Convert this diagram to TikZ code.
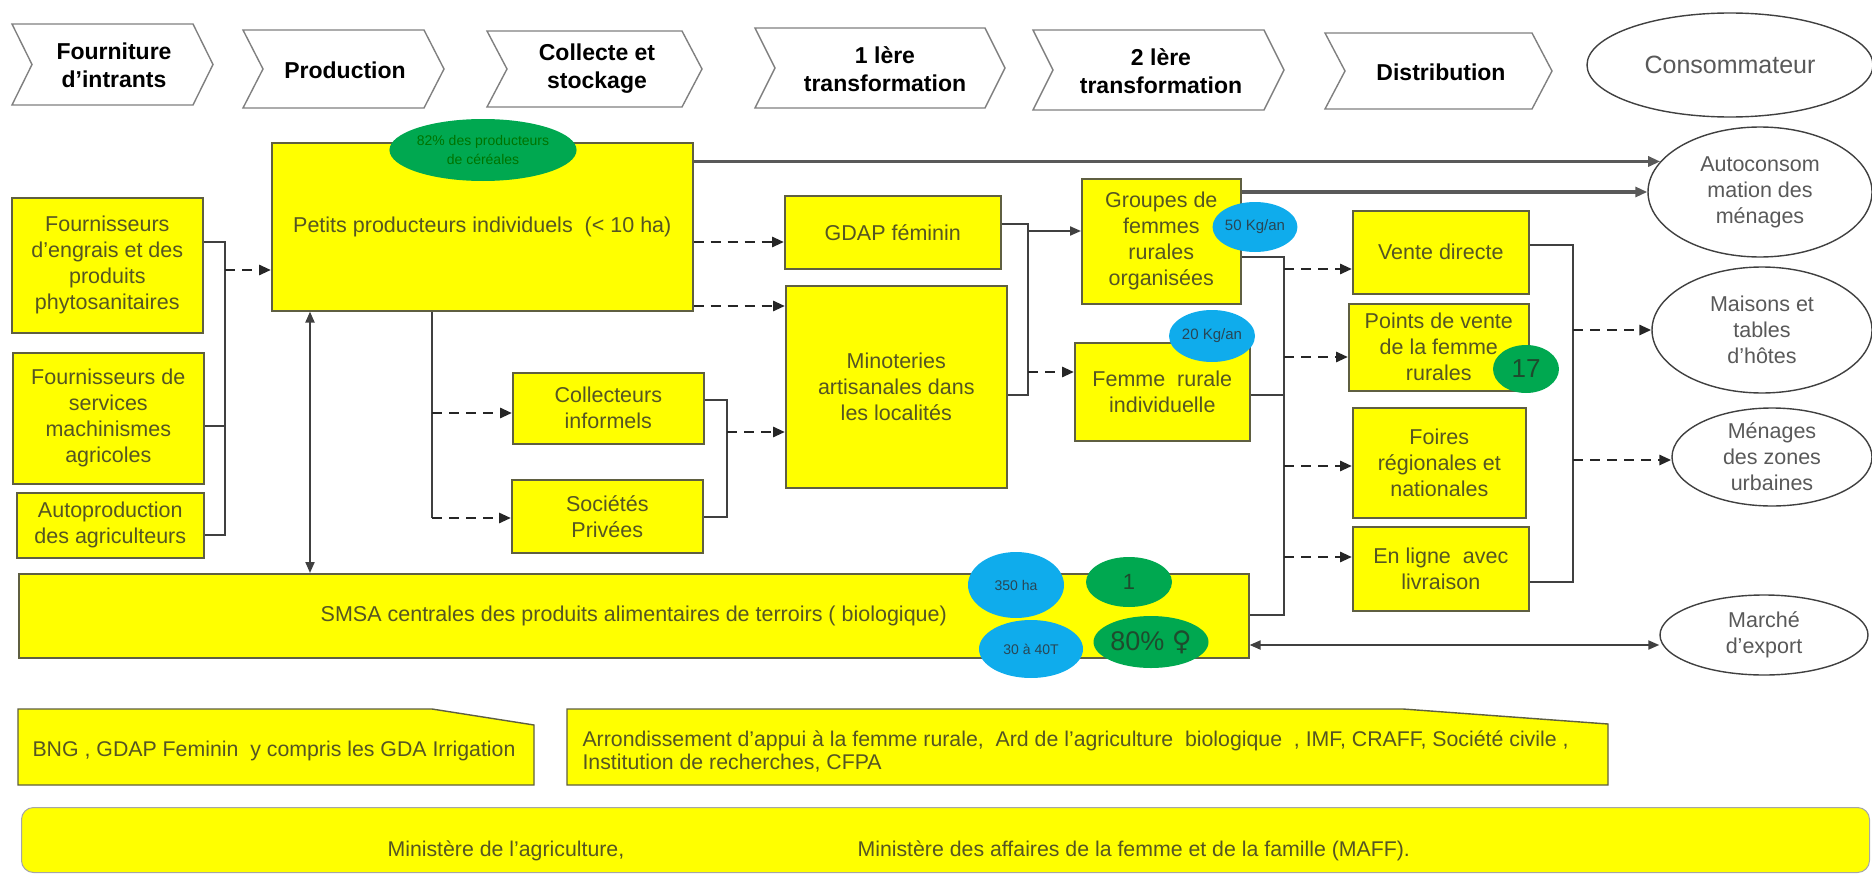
\documentclass[tikz,border=0pt]{standalone}
\usepackage{fontspec}
\setmainfont{Liberation Sans}
\newfontfamily\symfont{DejaVu Sans}
\usetikzlibrary{shapes.geometric,arrows.meta,calc}

\definecolor{boxyellow}{RGB}{255,255,0}
\definecolor{boxedge}{RGB}{95,95,65}
\definecolor{boxtext}{RGB}{85,85,35}
\definecolor{linegray}{RGB}{64,64,64}
\definecolor{badgegreen}{RGB}{0,168,80}
\definecolor{badgeblue}{RGB}{15,172,236}
\definecolor{greentext}{RGB}{30,75,45}
\definecolor{bluetext}{RGB}{40,70,85}
\definecolor{ovaltext}{RGB}{89,89,89}
\definecolor{chevedge}{RGB}{128,128,128}

\tikzset{
  ybox/.style={draw=boxedge, line width=1.6pt, fill=boxyellow, text=boxtext,
    align=center, inner sep=0pt, anchor=north west,
    font=\fontsize{21.5}{26}\selectfont},
  oval/.style={ellipse, draw=linegray, line width=1.4pt, fill=white,
    text=ovaltext, align=center, inner sep=0pt,
    font=\fontsize{21.5}{26}\selectfont},
  gbadge/.style={ellipse, fill=badgegreen, text=greentext, inner sep=0pt, align=center},
  bbadge/.style={ellipse, fill=badgeblue, text=bluetext, inner sep=0pt, align=center},
  hdr/.style={font=\bfseries\fontsize{23}{28}\selectfont, align=center, text=black},
  plain/.style={text=boxtext, font=\fontsize{21.3}{23}\selectfont},
  boxpoly/.style={draw=boxedge, line width=1.4pt, fill=boxyellow},
  conn/.style={draw=linegray, line width=2pt},
  dasharrow/.style={draw=black!85, line width=2.8pt, dash pattern=on 10pt off 7pt,
    -{Triangle[length=12pt,width=10pt]}},
  solidarrow/.style={conn, -{Triangle[length=11pt,width=9pt]}},
  bothtips/.style={conn, {Triangle[length=11pt,width=9pt]}-{Triangle[length=11pt,width=9pt]}},
  longarrow/.style={draw=gray!70!black, line width=3.2pt,
    -{Triangle[length=12pt,width=10pt]}},
}

% value-chain stage header: left x, top y, right x, bottom y
\newcommand\hdrchev[4]{%
  \draw[draw=chevedge, line width=1.4pt, fill=white]
    (#1,#2) -- (#3-20,#2) -- (#3,{(#2+#4)/2}) -- (#3-20,#4) -- (#1,#4)
    -- (#1+20,{(#2+#4)/2}) -- cycle;}

\begin{document}
\begin{tikzpicture}[x=1pt,y=-1pt]
\useasboundingbox (0,0) rectangle (1872,875);

% ---- stage headers ----
\hdrchev{12}{24}{213}{105}
\hdrchev{243}{30}{444}{108}
\hdrchev{487}{31}{702}{107}
\hdrchev{755}{28}{1005}{108}
\hdrchev{1033}{30}{1284}{110}
\hdrchev{1325}{33}{1552}{109}
\node[hdr] (h1) at (114,65) {Fourniture\\d’intrants};
\node[hdr] (h2) at (345,70) {Production};
\node[hdr] (h3) at (597,69) {Collecte et\\stockage};
\node[hdr] (h4) at (885,69) {1 lère\\transformation};
\node[hdr] (h5) at (1161,71) {2 lère\\transformation};
\node[hdr] (h6) at (1441,72) {Distribution};
\node[oval, minimum width=286pt, minimum height=104pt,
  font=\fontsize{25}{30}\selectfont] (conso) at (1730,65) {Consommateur};

% ---- inputs ----
\node[ybox, minimum width=191pt, minimum height=135pt] (engrais) at (11,197)
  {Fournisseurs\\d’engrais et des\\produits\\phytosanitaires};
\node[ybox, minimum width=191pt, minimum height=131pt] (services) at (12,352)
  {Fournisseurs de\\services\\machinismes\\agricoles};
\node[ybox, minimum width=187pt, minimum height=65pt] (auto) at (16,492)
  {Autoproduction\\des agriculteurs};

% ---- production, collection ----
\node[ybox, minimum width=421pt, minimum height=168pt] (petits) at (271,142)
  {Petits producteurs individuels~ (< 10 ha)};
\node[ybox, minimum width=191pt, minimum height=71pt] (collect) at (512,372)
  {Collecteurs\\informels};
\node[ybox, minimum width=191pt, minimum height=73pt] (societes) at (511,479)
  {Sociétés\\Privées};

% ---- first and second transformation ----
\node[ybox, minimum width=216pt, minimum height=73pt] (gdap) at (784,195)
  {GDAP féminin};
\node[ybox, minimum width=221pt, minimum height=202pt] (minot) at (785,285)
  {Minoteries\\artisanales dans\\les localités};
\node[ybox, minimum width=159pt, minimum height=125pt] (groupes) at (1081,178)
  {Groupes de\\femmes\\rurales\\organisées};
\node[ybox, minimum width=175pt, minimum height=98pt] (femme) at (1074,342)
  {Femme~ rurale\\individuelle};

% ---- distribution ----
\node[ybox, minimum width=176pt, minimum height=83pt] (vente) at (1352,210)
  {Vente directe};
\node[ybox, minimum width=180pt, minimum height=87pt] (points) at (1348,303)
  {Points de vente\\de la femme\\rurales};
\node[ybox, minimum width=173pt, minimum height=110pt] (foires) at (1352,407)
  {Foires\\régionales et\\nationales};
\node[ybox, minimum width=176pt, minimum height=84pt] (enligne) at (1352,526)
  {En ligne~ avec\\livraison};

% ---- organic SMSA ----
\node[ybox, minimum width=1230pt, minimum height=84pt] (smsa) at (18,573)
  {SMSA centrales des produits alimentaires de terroirs ( biologique)};

% ---- consumers ----
\node[oval, minimum width=224pt, minimum height=130pt] (autoc) at (1760,192)
  {Autoconsom\\mation des\\ménages};
\node[oval, minimum width=220pt, minimum height=126pt] (maisons) at (1762,330)
  {Maisons et\\tables\\d’hôtes};
\node[oval, minimum width=200pt, minimum height=98pt] (menages) at (1772,457)
  {Ménages\\des zones\\urbaines};
\node[oval, minimum width=208pt, minimum height=80pt] (marche) at (1764,635)
  {Marché\\d’export};

% ---- connectors ----
\draw[conn] (engrais.east |- 0,242) -| (225,535) -- (auto.east |- 0,535);
\draw[conn] (services.east |- 0,426) -- (225,426);
\draw[dasharrow] (225,270) -- (petits.west |- 0,270);

\draw[bothtips] (petits.south -| 310,0) -- (smsa.north -| 310,0);

\draw[dasharrow] (petits.east |- 0,242) -- (gdap.west |- 0,242);
\draw[dasharrow] (petits.east |- 0,306) -- (minot.west |- 0,306);

\draw[conn] (petits.south -| 432,0) -- (432,518);
\draw[dasharrow] (432,413) -- (collect.west |- 0,413);
\draw[dasharrow] (432,518) -- (societes.west |- 0,518);

\draw[conn] (collect.east |- 0,400) -| (727,517) -- (societes.east |- 0,517);
\draw[dasharrow] (727,432) -- (minot.west |- 0,432);

\draw[conn] (gdap.east |- 0,224) -| (1028,395) -- (minot.east |- 0,395);
\draw[solidarrow] (1028,231) -- (groupes.west |- 0,231);
\draw[dasharrow] (1028,372) -- (femme.west |- 0,372);

\draw[conn] (groupes.east |- 0,257) -| (1284,615) -- (smsa.east |- 0,615);
\draw[conn] (femme.east |- 0,395) -- (1284,395);
\draw[dasharrow] (1284,269) -- (vente.west |- 0,269);
\draw[dasharrow] (1284,357) -- (points.west |- 0,357);
\draw[dasharrow] (1284,466) -- (foires.west |- 0,466);
\draw[dasharrow] (1284,557) -- (enligne.west |- 0,557);

\draw[conn] (vente.east |- 0,245) -| (1573,582) -- (enligne.east |- 0,582);
\draw[dasharrow] (1573,330) -- (maisons.west |- 0,330);
\draw[dasharrow] (1573,460) -- (menages.west |- 0,460);

\draw[longarrow] (petits.east |- autoc.163) -- (autoc.163);
\draw[longarrow] (groupes.east |- autoc.west) -- (autoc.west);

\draw[bothtips] (smsa.east |- 0,645) -- (marche.west |- 0,645);

% ---- figures ----
\node[gbadge, minimum width=168pt, minimum height=62pt, text=green!45!black,
  font=\fontsize{14}{19}\selectfont] (share) at (483,150)
  {82\% des producteurs\\de céréales};
\node[bbadge, minimum width=84pt, minimum height=50pt,
  font=\fontsize{15}{18}\selectfont] (kg50) at (1255,227) {50 Kg/an};
\node[bbadge, minimum width=86pt, minimum height=52pt,
  font=\fontsize{15}{18}\selectfont] (kg20) at (1212,336) {20 Kg/an};
\node[gbadge, minimum width=66pt, minimum height=48pt,
  font=\fontsize{26}{30}\selectfont] (n17) at (1526,369) {17};
\node[bbadge, minimum width=96pt, minimum height=66pt,
  font=\fontsize{14}{18}\selectfont] (ha350) at (1016,585) {350 ha};
\node[gbadge, minimum width=86pt, minimum height=50pt,
  font=\fontsize{22}{26}\selectfont] (n1) at (1129,582) {1};
\node[bbadge, minimum width=104pt, minimum height=58pt,
  font=\fontsize{14}{18}\selectfont] (t3040) at (1031,649) {30 à 40T};
\node[gbadge, minimum width=86pt, minimum height=52pt,
  font=\fontsize{27}{30}\selectfont] (pct80) at (1151,642) {80\%~{\symfont ♀}};

% ---- support structures ----
\draw[boxpoly] (18,709) -- (432,709) -- (534,725) -- (534,785) -- (18,785) -- cycle;
\node[plain] (bng) at (274,751) {BNG , GDAP Feminin~ y compris les GDA Irrigation};
\draw[boxpoly] (567,709) -- (1403,709) -- (1608,724) -- (1608,785) -- (567,785) -- cycle;
\node[plain, anchor=west, align=left] (arr) at (579,752)
  {Arrondissement d’appui à la femme rurale,~ Ard de l’agriculture~ biologique~ , IMF, CRAFF, Société civile ,\\
   Institution de recherches, CFPA};
\node[draw=gray!70, line width=1pt, fill=boxyellow, rounded corners=12pt,
  minimum width=1848pt, minimum height=65pt, anchor=north west] (mins) at (21,807) {};
\node[plain, anchor=west] (minagri) at (384,851) {Ministère de l’agriculture,};
\node[plain, anchor=west] (minfem) at (854,851)
  {Ministère des affaires de la femme et de la famille (MAFF).};
\end{tikzpicture}
\end{document}
